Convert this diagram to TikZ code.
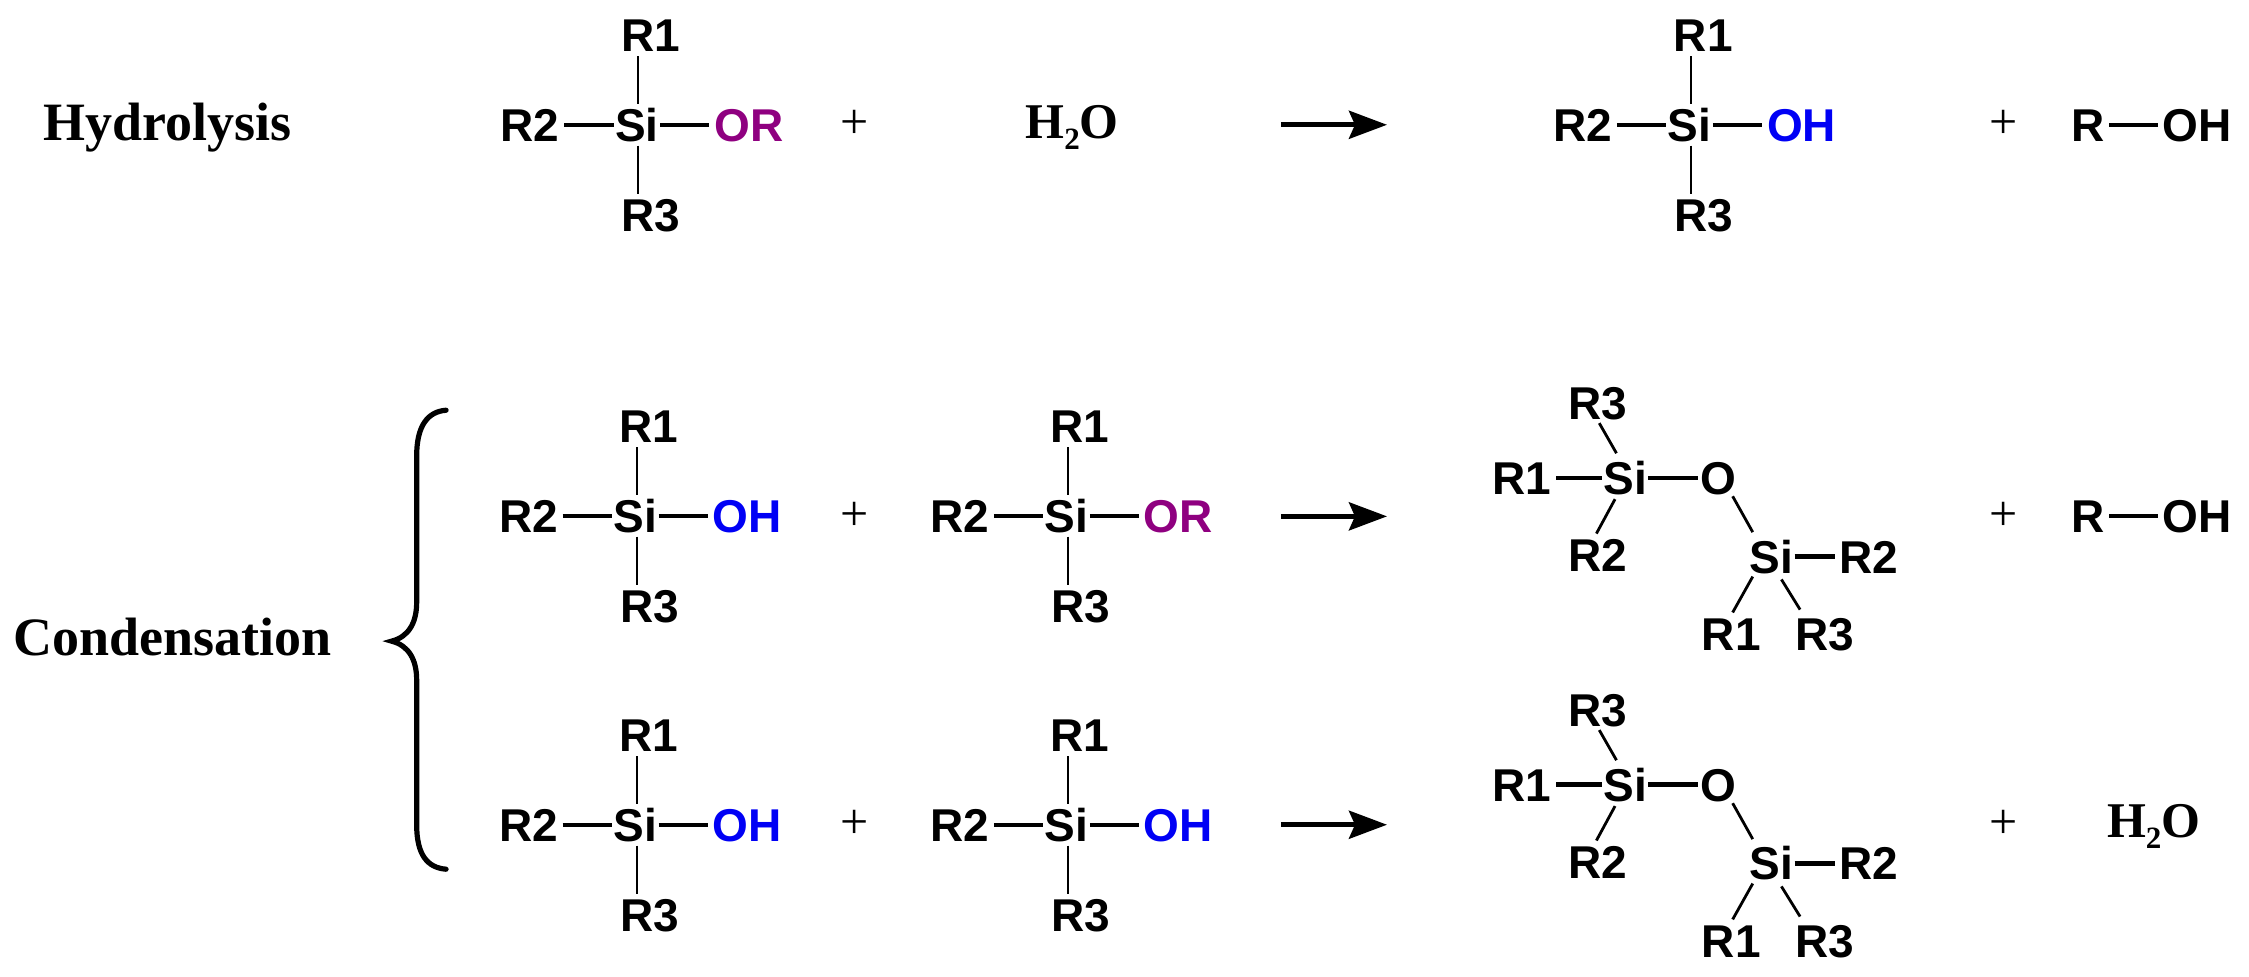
\documentclass[tikz,border=0pt]{standalone}
\usepackage{fontspec}
\setmainfont{Liberation Sans}
\newfontfamily\serifface{Liberation Serif}
\definecolor{orpurple}{HTML}{8F0080}
\definecolor{ohblue}{HTML}{0000F5}
\usetikzlibrary{arrows.meta,calc}
\tikzset{
  atom/.style={inner xsep=2.2pt,inner ysep=2pt,text height=16.5pt,text depth=0pt,anchor=center,font=\fontsize{23}{23}\selectfont\bfseries},
  siatom/.style={atom,inner xsep=0.6pt},
  hbond/.style={line width=2.1pt},
  vbond/.style={line width=1.05pt},
  dbond/.style={line width=1.4pt},
  plus/.style={inner sep=0pt,font=\serifface\fontsize{25}{25}\selectfont},
  title/.style={inner sep=0pt,anchor=center,font=\serifface\fontsize{27}{27}\selectfont\bfseries},
  water/.style={inner sep=0pt,anchor=center,font=\serifface\fontsize{25}{25}\selectfont\bfseries},
  rxnarrow/.style={line width=2.4pt,-{Stealth[length=19pt,width=14pt,inset=3pt]}},
  brace/.style={line width=2.6pt,line cap=round}
}
% silane fragment: prefix, Si x, Si y, leaving group, colour
\newcommand{\silane}[5]{%
  \node[siatom] (#1si) at (#2,#3) {Si};
  \node[atom] (#1a) at (#2+9.5,#3-62.5) {R1};
  \node[atom] (#1b) at (#2+10,#3+63) {R3};
  \node[atom] (#1c) at (#2-74.5,#3) {R2};
  \node[atom,text=#5] (#1d) at (#2+78,#3) {#4};
  \draw[vbond] (#1si.north) ++(1,0) coordinate (#1p) -- (#1p |- #1a.south);
  \draw[vbond] (#1si.south) ++(1,0) coordinate (#1q) -- (#1q |- #1b.north);
  \draw[hbond] (#1c) -- (#1si);
  \draw[hbond] (#1si) -- (#1d);
}
% siloxane: prefix, y offset
\newcommand{\siloxane}[2]{%
  \node[siatom] (#1si) at (1133,333+#2) {Si};
  \node[atom] (#1ra) at (1061,333+#2) {R1};
  \node[atom] (#1rc) at (1114,281+#2) {R3};
  \node[atom] (#1rb) at (1114,387+#2) {R2};
  \node[atom,inner xsep=1pt] (#1o) at (1198,333+#2) {O};
  \node[siatom] (#1st) at (1235,388+#2) {Si};
  \node[atom] (#1rd) at (1303,388+#2) {R2};
  \node[atom] (#1re) at (1207,442+#2) {R1};
  \node[atom] (#1rf) at (1272,442+#2) {R3};
  \draw[hbond] (#1ra) -- (#1si);
  \draw[hbond] (#1si) -- (#1o);
  \draw[hbond] (#1st) -- (#1rd);
  \draw[dbond] ($(#1si)+(-6,-17)$) -- ($(#1rc)+(1,14)$);
  \draw[dbond] ($(#1si)+(-7,15)$) -- ($(#1rb)+(-1,-15)$);
  \draw[dbond] ($(#1o)+(10,13)$) -- ($(#1st)+(-13,-17)$);
  \draw[dbond] ($(#1st)+(-13,14)$) -- ($(#1re)+(1,-15)$);
  \draw[dbond] ($(#1st)+(7,16)$) -- ($(#1rf)+(-17,-17)$);
}
\newcommand{\waterlabel}{H\raisebox{-.22em}{\fontsize{15.5}{15.5}\selectfont 2}O}
\begin{document}
\begin{tikzpicture}[x=0.7172pt,y=-0.7172pt]
\useasboundingbox (0,0) rectangle (1568,680.5);
\node[title] (hyd) at (117,89) {Hydrolysis};
\node[title] (con) at (120,444) {Condensation};
\silane{ta}{444}{87}{OR}{orpurple}
\node[plus] (p1) at (596,87) {+};
\node[water] (w1) at (747.5,89) {\waterlabel};
\coordinate (a1s) at (893,87); \coordinate (a1e) at (967,87);
\draw[rxnarrow] (a1s) -- (a1e);
\silane{tb}{1178}{87}{OH}{ohblue}
\node[plus] (p2) at (1397,87) {+};
\node[atom] (r1) at (1455.5,87) {R};
\node[atom] (oh1) at (1532,87) {OH};
\draw[hbond] (r1) -- (oh1);
% brace
\coordinate (bt) at (311,286); \coordinate (bm) at (273,447); \coordinate (bb) at (311,606);
\draw[brace] (bt) .. controls (298,287) and (290.5,297) .. (290.5,318) -- (290.5,420)
  .. controls (290.5,434) and (285,444) .. (bm)
  .. controls (285,450) and (290.5,460) .. (290.5,474) -- (290.5,575)
  .. controls (290.5,596) and (298,605) .. (bb);
\silane{ma}{443}{359.5}{OH}{ohblue}
\node[plus] (p3) at (596,360) {+};
\silane{mb}{743.5}{359.5}{OR}{orpurple}
\coordinate (a2s) at (893,360); \coordinate (a2e) at (967,360);
\draw[rxnarrow] (a2s) -- (a2e);
\siloxane{mc}{0}
\node[plus] (p4) at (1397,360) {+};
\node[atom] (r2) at (1455.5,360) {R};
\node[atom] (oh2) at (1532,360) {OH};
\draw[hbond] (r2) -- (oh2);
\silane{ba}{443}{575}{OH}{ohblue}
\node[plus] (p5) at (596,575) {+};
\silane{bb}{743.5}{575}{OH}{ohblue}
\coordinate (a3s) at (893,575); \coordinate (a3e) at (967,575);
\draw[rxnarrow] (a3s) -- (a3e);
\siloxane{bc}{214}
\node[plus] (p6) at (1397,575) {+};
\node[water] (w2) at (1501.5,576) {\waterlabel};
\end{tikzpicture}
\end{document}
